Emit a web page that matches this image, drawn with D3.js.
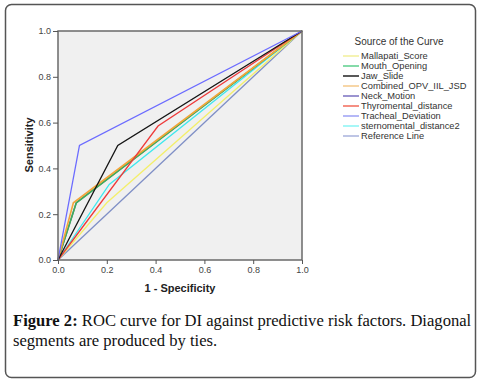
<!DOCTYPE html>
<html><head><meta charset="utf-8">
<script src="https://cdn.jsdelivr.net/npm/d3@7/dist/d3.min.js"></script>
<style>body{margin:0;background:#fff}svg{display:block}</style>
</head><body>
<script>
const seriesNames = ["Mallapati_Score","Mouth_Opening","Jaw_Slide","Combined_OPV_IIL_JSD","Neck_Motion","Thyromental_distance","Tracheal_Deviation","sternomental_distance2","Reference Line"];
// ROC points [1-specificity, sensitivity]
const mallapati = [[0,0],[0.20,0.25],[1,1]];
const mouthOpening = [[0,0],[0.075,0.25],[1,1]];
const jawSlide = [[0,0],[0.245,0.50],[1,1]];
const combined = [[0,0],[0.063,0.25],[1,1]];
const neckMotion = [[0,0],[0.075,0.25],[1,1]];
const thyromental = [[0,0],[0.41,0.585],[1,1]];
const tracheal = [[0,0],[0.088,0.50],[1,1]];
const sternomental = [[0,0],[0.21,0.33],[1,1]];
const reference = [[0,0],[1,1]];
const ticks = [0,0.2,0.4,0.6,0.8,1.0];

const allData = [mallapati,mouthOpening,jawSlide,combined,neckMotion,thyromental,tracheal,sternomental,reference];
const lineColors = ["#f4ef6a","#3fae5a","#151515","#f3a53a","#5b4fa6","#ee3a3a","#6b6bff","#3ee8ee","#7f8fc6"];
const legendColors = ["#f2ef9a","#5ccf8c","#222222","#f5c98a","#7a70c0","#f26a5a","#9da0f5","#8af5f5","#a9b2dc"];
const drawOrder = [8,4,0,7,1,3,5,2,6];

const W=479,H=381;
const svg=d3.select("body").append("svg").attr("width",W).attr("height",H);
svg.append("rect").attr("x",5.5).attr("y",4.5).attr("width",470).attr("height",373).attr("rx",6)
  .attr("fill","#fff").attr("stroke","#555").attr("stroke-width",1.5);

const x=d3.scaleLinear().domain([0,1]).range([58,302]);
const y=d3.scaleLinear().domain([0,1]).range([260,31]);

svg.append("rect").attr("x",x(0)).attr("y",y(1)).attr("width",x(1)-x(0)).attr("height",y(0)-y(1))
  .attr("fill","#f0f0f0");

const line=d3.line().x(d=>x(d[0])).y(d=>y(d[1]));
const g=svg.append("g");
drawOrder.forEach(i=>{
  g.append("path").datum(allData[i]).attr("d",line).attr("fill","none")
   .attr("stroke",lineColors[i]).attr("stroke-width",i===3||i===1?1.6:1.3);
});

svg.append("rect").attr("x",x(0)).attr("y",y(1)).attr("width",x(1)-x(0)).attr("height",y(0)-y(1))
  .attr("fill","none").attr("stroke","#6a6a6a").attr("stroke-width",1.5);

const fmt=d3.format(".1f");
const xa=svg.append("g").attr("transform",`translate(0,${y(0)})`)
  .call(d3.axisBottom(x).tickValues(ticks).tickFormat(fmt).tickSize(4).tickPadding(3));
const ya=svg.append("g").attr("transform",`translate(${x(0)},0)`)
  .call(d3.axisLeft(y).tickValues(ticks).tickFormat(fmt).tickSize(5).tickPadding(2));
[xa,ya].forEach(a=>{
  a.select(".domain").remove();
  a.selectAll("line").attr("stroke","#555");
  a.selectAll("text").attr("font-family","Liberation Sans, Arial, sans-serif").attr("font-size",9).attr("fill","#444");
});

svg.append("text").attr("x",180).attr("y",292).attr("text-anchor","middle")
  .attr("font-family","Liberation Sans, Arial, sans-serif").attr("font-weight","bold").attr("font-size",11).attr("fill","#222")
  .text("1 - Specificity");
svg.append("text").attr("transform","translate(33,145) rotate(-90)").attr("text-anchor","middle")
  .attr("font-family","Liberation Sans, Arial, sans-serif").attr("font-weight","bold").attr("font-size",11).attr("fill","#222")
  .text("Sensitivity");

// legend
const lg=svg.append("g");
lg.append("text").attr("x",399).attr("y",45).attr("text-anchor","middle")
  .attr("font-family","Liberation Sans, Arial, sans-serif").attr("font-size",10).attr("fill","#333")
  .text("Source of the Curve");
seriesNames.forEach((n,i)=>{
  const yy=56+i*10;
  lg.append("line").attr("x1",343).attr("x2",359).attr("y1",yy).attr("y2",yy)
    .attr("stroke",legendColors[i]).attr("stroke-width",1.5);
  lg.append("text").attr("x",361).attr("y",yy+3.2).attr("font-family","Liberation Sans, Arial, sans-serif")
    .attr("font-size",9.3).attr("fill","#333").text(n);
});

// caption
const cap=svg.append("text").attr("x",13).attr("y",326).attr("font-family","Liberation Serif, serif").attr("font-size",16.6).attr("fill","#111");
cap.append("tspan").attr("font-weight","bold").text("Figure 2:");
cap.append("tspan").text(" ROC curve for DI against predictive risk factors. Diagonal");
svg.append("text").attr("x",13).attr("y",346).attr("font-family","Liberation Serif, serif").attr("font-size",16.6).attr("fill","#111")
  .text("segments are produced by ties.");
</script>
</body></html>
